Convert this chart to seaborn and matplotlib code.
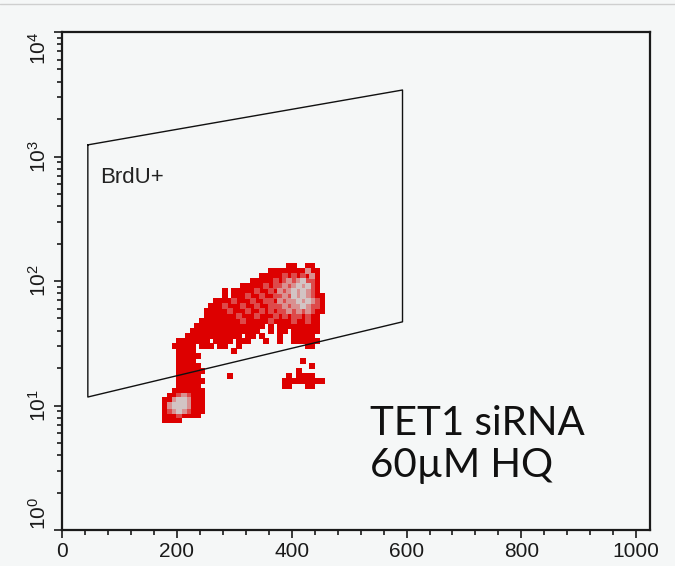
import numpy as np
import pandas as pd
import matplotlib
matplotlib.use("Agg")
import matplotlib.pyplot as plt
import seaborn as sns
from matplotlib.lines import Line2D
from matplotlib.ticker import FixedLocator, NullFormatter, LogLocator

# ---------------- data ----------------
# density map of events: (row, first column, cell levels); '.' = empty
X_COL0 = 172      # channel of column 0 centre
X_STEP = 8        # channels per column
Y_ROW0 = 2.12     # log10 of row 0 centre
Y_STEP = 0.04     # log10 per row
CELL_ROWS = [
    (0, 28, "11"), (0, 32, "11"),
    (1, 24, "11111111311"),
    (2, 22, "1111121212131"),
    (3, 20, "111112123234221"),
    (4, 18, "11111212232343421"),
    (5, 14, "1"), (5, 16, "1111121121323434321"),
    (6, 14, "1"), (6, 16, "11121121122324343211"),
    (7, 12, "111121112112213233434321"),
    (8, 11, "1112111211211222323343221"),
    (9, 10, "11111211121121212232323211"),
    (10, 10, "1111111211121112121221211"),
    (11, 9, "11111111121111121111211211"),
    (12, 8, "111111111111111"), (12, 24, "1"), (12, 26, "111111111"),
    (13, 7, "111111111111111"), (13, 24, "1"), (13, 26, "11"), (13, 29, "111111"),
    (14, 6, "111111111111.11.1"), (14, 26, "1"), (14, 29, "11111"),
    (15, 4, "1111111.1111.111"), (15, 23, "1"), (15, 26, "1"), (15, 29, "111111"),
    (16, 3, "11111.111.11..1"), (16, 32, "11"),
    (17, 4, "1111"), (17, 16, "1"),
    (18, 4, "11111"),
    (19, 4, "1111"), (19, 31, "1"),
    (20, 4, "11111"), (20, 33, "1"),
    (21, 4, "111111"), (21, 30, "1"),
    (22, 4, "11111"), (22, 15, "1"), (22, 28, "1.1111"),
    (23, 4, "111111"), (23, 27, "111111111"),
    (24, 4, "11111"), (24, 27, "11"), (24, 32, "11"),
    (25, 3, "1111111"),
    (26, 2, "11232111"),
    (27, 1, "113443111"),
    (28, 1, "134443111"),
    (29, 1, "123432111"),
    (30, 1, "11121111"),
    (31, 1, "1111"),
]
LEVEL_COLORS = {1: "#dd0000", 2: "#dd4a4a", 3: "#d99090", 4: "#d2c4c4"}

GATE_X = [45, 593, 593, 45, 45]
GATE_Y = [1240, 3420, 47, 11.7, 1240]
GATE_LABEL = "BrdU+"

X_MAJOR = [0, 200, 400, 600, 800, 1000]
X_LABELS = ["0", "200", "400", "600", "800", "1000"]
X_MINOR = [40, 80, 120, 160, 240, 280, 320, 360, 440, 480, 520, 560,
           640, 680, 720, 760, 840, 880, 920, 960]
Y_MAJOR = [1, 10, 100, 1000, 10000]
Y_LABELS = [r"$\mathregular{10^{0}}$", r"$\mathregular{10^{1}}$", r"$\mathregular{10^{2}}$",
            r"$\mathregular{10^{3}}$", r"$\mathregular{10^{4}}$"]
ANNOT = ["TET1 siRNA", "60\u00b5M HQ"]

# ---------------- build table ----------------
recs = []
for r, c0, s in CELL_ROWS:
    for k, ch in enumerate(s):
        if ch != ".":
            recs.append({"x": X_COL0 + X_STEP * (c0 + k),
                         "y": 10 ** (Y_ROW0 - Y_STEP * r),
                         "level": int(ch)})
df = pd.DataFrame(recs).sort_values("level")

# ---------------- style ----------------
BG = "#f5f7f7"
sns.set_style("ticks")
plt.rcParams["font.family"] = ["Liberation Sans Narrow", "Liberation Sans", "DejaVu Sans"]
plt.rcParams["mathtext.fontset"] = "custom"

fig = plt.figure(figsize=(6.75, 5.66), dpi=100, facecolor=BG)
ax = fig.add_axes([62 / 675, 1 - 530 / 566, (650 - 62) / 675, (530 - 32) / 566])
ax.set_facecolor(BG)
ax.set_yscale("log")

sns.scatterplot(data=df, x="x", y="y", hue="level", palette=LEVEL_COLORS,
                marker="s", s=19, linewidth=0, legend=False, ax=ax, zorder=2)

ax.plot(GATE_X, GATE_Y, color="#111111", lw=1.0, zorder=3)
ax.text(66, 672, GATE_LABEL, fontsize=16, va="center", ha="left",
        color="#222222", family=["Liberation Sans", "DejaVu Sans"])

ax.set_xlim(0, 1024)
ax.set_ylim(1, 10000)
ax.set_xlabel("")
ax.set_ylabel("")

ax.xaxis.set_major_locator(FixedLocator(X_MAJOR))
ax.xaxis.set_minor_locator(FixedLocator(X_MINOR))
ax.set_xticklabels(X_LABELS)
ax.yaxis.set_major_locator(FixedLocator(Y_MAJOR))
ax.yaxis.set_minor_locator(LogLocator(base=10, subs=np.arange(2, 10)))
ax.yaxis.set_minor_formatter(NullFormatter())
ax.set_yticklabels(Y_LABELS, rotation=90, va="center")

for sp in ax.spines.values():
    sp.set_linewidth(1.6)
    sp.set_color("#1a1a1a")

ax.tick_params(axis="x", which="major", length=5.5, width=1.2, pad=3,
               labelsize=15, colors="#1a1a1a")
ax.tick_params(axis="x", which="minor", length=3.5, width=1.2, colors="#1a1a1a")
ax.tick_params(axis="y", which="major", length=6, width=1.2, pad=3,
               labelsize=15, colors="#1a1a1a")
ax.tick_params(axis="y", which="minor", length=3.5, width=1.2, colors="#1a1a1a")

ylabs = ax.get_yticklabels()
ylabs[0].set_va("bottom")
ylabs[-1].set_va("top")

fig.text(370 / 675, 1 - 435 / 566, ANNOT[0], fontsize=29, family=["Lato", "DejaVu Sans"],
         color="#111111", ha="left", va="baseline")
fig.text(370 / 675, 1 - 477 / 566, ANNOT[1], fontsize=29, family=["Lato", "DejaVu Sans"],
         color="#111111", ha="left", va="baseline")

fig.add_artist(Line2D([0, 1], [1 - 3.5 / 566, 1 - 3.5 / 566], transform=fig.transFigure,
                      color="#cfcfcf", lw=1))

fig.savefig("out.png", dpi=100, facecolor=BG)
